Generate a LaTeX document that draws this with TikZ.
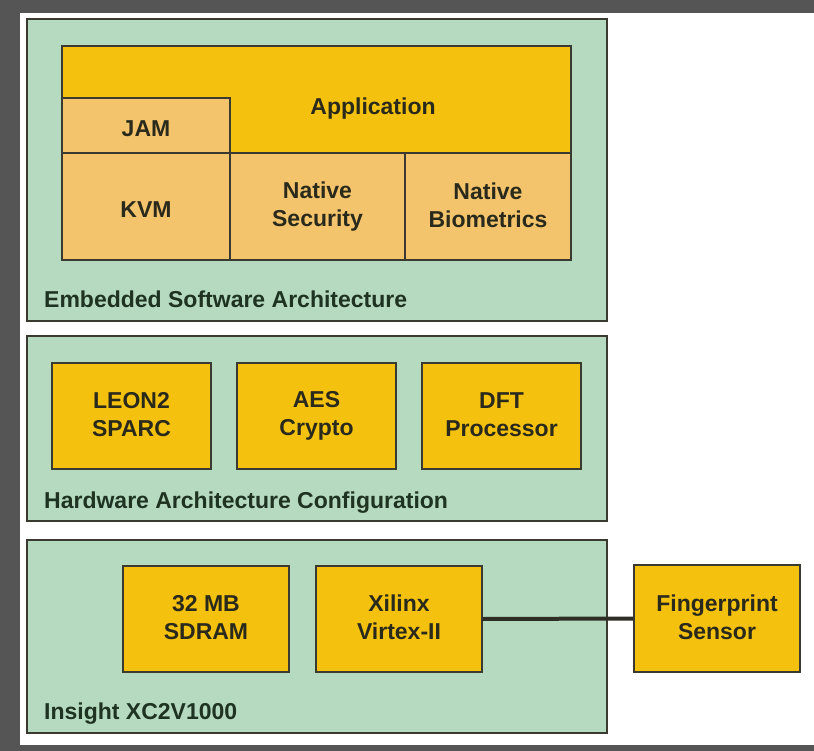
\documentclass[tikz,border=0pt]{standalone}
\usepackage{fontspec}
\setmainfont{Liberation Sans}
\usepackage{tikz}
\usetikzlibrary{shapes}

\definecolor{panelgreen}{HTML}{B6DABF}
\definecolor{boxgold}{HTML}{F4C20E}
\definecolor{boxpeach}{HTML}{F4C46C}
\definecolor{edgegray}{HTML}{3A3A30}
\definecolor{framegray}{HTML}{555555}
\definecolor{txtdark}{HTML}{2A2A1C}
\definecolor{lbldark}{HTML}{1E3322}

\newcommand{\boxstrut}{\rule[-2.75pt]{0pt}{28pt}}

\tikzset{
  panel/.style={draw=edgegray, line width=1.2pt, fill=panelgreen, inner sep=0pt},
  goldbox/.style={draw=edgegray, line width=1.2pt, fill=boxgold, inner sep=0pt, align=center, font=\fontsize{23}{28}\selectfont\bfseries, text=txtdark, execute at begin node=\boxstrut, execute at end node=\boxstrut},
  peachbox/.style={goldbox, fill=boxpeach},
  panellabel/.style={anchor=west, inner sep=0pt, font=\fontsize{23}{28}\selectfont\bfseries, text=lbldark}
}

\begin{document}
\begin{tikzpicture}[x=1pt, y=-1pt]
					\fill[framegray] (0,0) rectangle (814,751);
					\fill[white] (20,13) rectangle (814,745);
					\useasboundingbox (0,0) rectangle (814,751);

					% software
					\node[panel, minimum width=580pt, minimum height=302pt] (swpanel) at (317,170) {};
					\node[goldbox, minimum width=509pt, minimum height=107pt] (app) at (316.5,99.5) {};
					\node[anchor=base, inner sep=0pt, font=\fontsize{23}{28}\selectfont\bfseries, text=txtdark] (apptext) at (373,114.5) {Application};
					\node[peachbox, minimum width=168pt, minimum height=55pt] (jam) at (146,125.5) {JAM};
					\node[peachbox, minimum width=168pt, minimum height=107pt] (kvm) at (146,206.5) {KVM};
					\node[peachbox, minimum width=175pt, minimum height=107pt] (natsec) at (317.5,206.5) {Native\\Security};
					\node[peachbox, minimum width=166pt, minimum height=107pt] (natbio) at (488,206.5) {Native\\Biometrics};
					\node[panellabel] (swlabel) at (44,299) {Embedded Software Architecture};

					% hardware
					\node[panel, minimum width=580pt, minimum height=185pt] (hwpanel) at (317,428.5) {};
					\node[goldbox, minimum width=159pt, minimum height=106pt] (leon) at (131.5,416) {LEON2\\SPARC};
					\node[goldbox, minimum width=159pt, minimum height=106pt] (aes) at (316.5,416) {AES\\Crypto};
					\node[goldbox, minimum width=159pt, minimum height=106pt] (dft) at (501.5,416) {DFT\\Processor};
					\node[panellabel] (hwlabel) at (44,503) {Hardware Architecture Configuration};

					% board
					\node[panel, minimum width=580pt, minimum height=193pt] (brdpanel) at (317,636.5) {};
					\node[goldbox, minimum width=166pt, minimum height=106pt] (sdram) at (206,619) {32 MB\\SDRAM};
					\node[goldbox, minimum width=166pt, minimum height=106pt] (xilinx) at (399,619) {Xilinx\\Virtex-II};
					\node[goldbox, minimum width=166pt, minimum height=107pt] (finger) at (717,618.5) {Fingerprint\\Sensor};
					\node[panellabel] (brdlabel) at (44,714) {Insight XC2V1000};

					\draw[line width=4pt, edgegray!80!black] (xilinx.east) -- (finger.west);
				\end{tikzpicture}
\end{document}
